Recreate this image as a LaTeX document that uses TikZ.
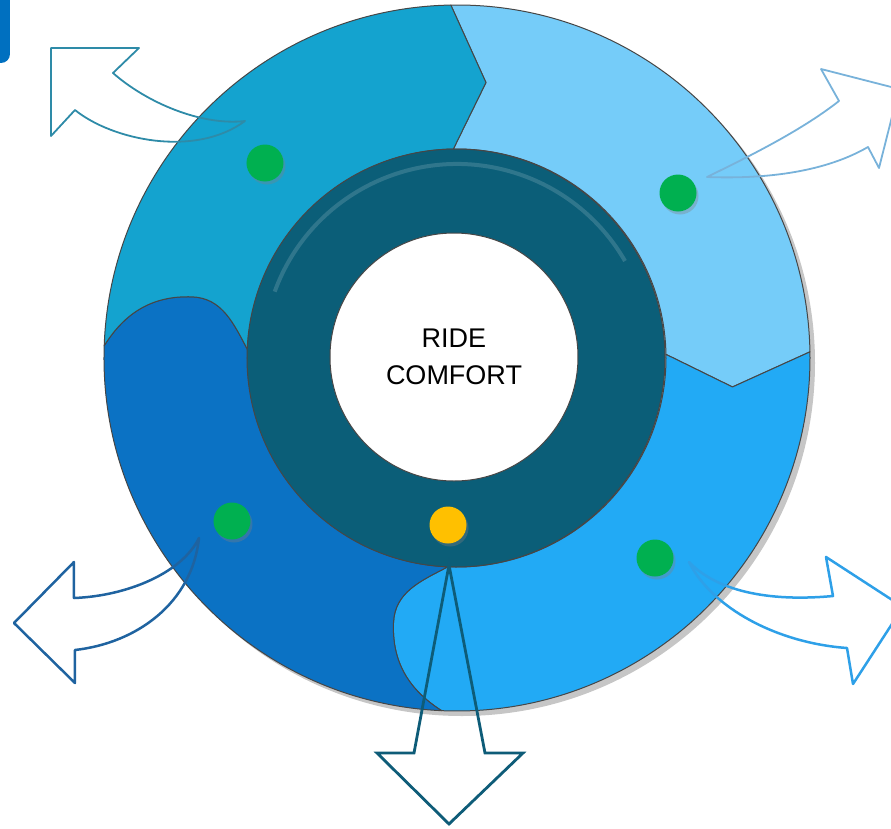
\documentclass[tikz,border=0pt]{standalone}
\usepackage{fontspec}
\setmainfont{Liberation Sans}
\usetikzlibrary{shadows}
\definecolor{segTL}{RGB}{20,163,207}
\definecolor{segTR}{RGB}{117,204,249}
\definecolor{segBR}{RGB}{34,170,245}
\definecolor{segBL}{RGB}{11,114,196}
\definecolor{hubRing}{RGB}{11,94,120}
\definecolor{dotGreen}{RGB}{0,176,80}
\definecolor{dotYellow}{RGB}{255,192,0}
\definecolor{tabBlue}{RGB}{0,112,192}
\definecolor{arrTL}{RGB}{46,139,168}
\definecolor{arrTR}{RGB}{120,178,218}
\definecolor{arrBL}{RGB}{31,99,160}
\definecolor{arrBR}{RGB}{46,160,232}
\definecolor{arrB}{RGB}{14,92,120}
\definecolor{edgeGray}{RGB}{70,70,70}

\begin{document}
\begin{tikzpicture}[
    x=1pt, y=1pt,
    % ring segment
    seg/.style={
        fill=#1, draw=edgeGray,
        line width=1pt, line join=round
    },
    % small marker dot
    dot/.style={
        circle, fill=#1, minimum size=37pt, inner sep=0pt,
        drop shadow={shadow xshift=2pt, shadow yshift=-3pt, opacity=.35}
    },
    % hollow outgoing arrow
    outarrow/.style={
        draw=#1, line width=1.8pt, line join=round
    }
]
\useasboundingbox (-457,-470) rectangle (434,358);
\clip (-457,-470) rectangle (434,358);
% ── Corner tab ────────────────────────────────────────────────
\fill[tabBlue, rounded corners=9pt] (-480,400) rectangle (-447,295);
% ── Outer ring: four segments ─────────────────────────────────
\fill[black!50, opacity=.45] (5,-5) circle (353);
\draw[seg=segTR] (91:353) arc[start angle=91, end angle=1, radius=353]
    -- (-6:277) -- (1:209)
    arc[start angle=1, end angle=91, radius=209]
    -- (84:277) -- cycle;
\draw[seg=segBR] (1:353) arc[start angle=1, end angle=-92.5, radius=353]
    to[out=-212.5, in=-92.5] (-103.5:272) to[out=87.5, in=-152.5] (-92.5:209)
    arc[start angle=-92.5, end angle=1, radius=209]
    -- (-6:277) -- cycle;
\draw[seg=segBL] (-92.5:353) arc[start angle=-92.5, end angle=-182, radius=353]
    to[out=58, in=178] (167:272) to[out=-2, in=118] (-182:209)
    arc[start angle=-182, end angle=-92.5, radius=209]
    to[out=-152.5, in=87.5] (-103.5:272) to[out=-92.5, in=-212.5] (-92.5:353)
    -- cycle;
\draw[seg=segTL] (178:353) arc[start angle=178, end angle=91, radius=353]
    -- (84:277) -- (91:209)
    arc[start angle=91, end angle=178, radius=209]
    to[out=118, in=358] (167:272) to[out=178, in=58] (178:353) -- cycle;
% ── Hub ───────────────────────────────────────────────────────
\draw[fill=hubRing, draw=edgeGray, line width=1pt] (-1,0) circle (209);
\draw[white!60!hubRing, opacity=.25, line width=4pt]
    (160:194) arc[start angle=160, end angle=30, radius=194];
\node[circle, fill=white, draw=edgeGray, line width=1pt,
      minimum size=248pt, inner sep=0pt, align=center,
      font=\fontsize{27}{37}\selectfont]
    (hub) at (-3,1) {RIDE\\COMFORT};
% ── Marker dots ───────────────────────────────────────────────
\node[dot=dotGreen]  (dotTL)  at (-192, 195) {};
\node[dot=dotGreen]  (dotTR)  at ( 221, 165) {};
\node[dot=dotGreen]  (dotBR)  at ( 198,-200) {};
\node[dot=dotGreen]  (dotBL)  at (-225,-163) {};
\node[dot=dotYellow] (dotHub) at (  -9,-167) {};
% ── Outgoing arrows ───────────────────────────────────────────
\coordinate (tailTL) at (-212, 237);
\coordinate (tailTR) at ( 250, 181);
\coordinate (tailBL) at (-258,-180);
\coordinate (tailBR) at ( 232,-204);
\coordinate (tailB)  at (  -8,-207);
% up-left
\draw[outarrow=arrTL] (tailTL)
    .. controls (-255,232) and (-310,255) .. (-344,285)
    -- (-318,310) -- (-406,310) -- (-406,222) -- (-382,248)
    .. controls (-345,218) and (-262,200) .. (tailTL) -- cycle;
% up-right
\draw[outarrow=arrTR] (tailTR)
    .. controls (295,203) and (345,228) .. (382,257)
    -- (364,289) -- (442,269) -- (422,190) -- (411,211)
    .. controls (380,193) and (330,178) .. (tailTR) -- cycle;
% down-left
\draw[outarrow=arrBL, line width=2.5pt] (tailBL)
    .. controls (-275,-215) and (-330,-238) .. (-383,-240)
    -- (-383,-204) -- (-443,-265) -- (-382,-325) -- (-382,-292)
    .. controls (-320,-285) and (-265,-245) .. (tailBL) -- cycle;
% down-right
\draw[outarrow=arrBR, line width=2.5pt] (tailBR)
    .. controls (255,-228) and (300,-245) .. (376,-238)
    -- (369,-199) -- (446,-249) -- (396,-326) -- (390,-290)
    .. controls (320,-285) and (255,-250) .. (tailBR) -- cycle;
% straight down
\draw[outarrow=arrB, line width=2.8pt, line join=miter] (tailB)
    -- (-43,-395) -- (-80,-395) -- (-8,-466) -- (66,-395) -- (28,-395)
    -- cycle;
\end{tikzpicture}
\end{document}
